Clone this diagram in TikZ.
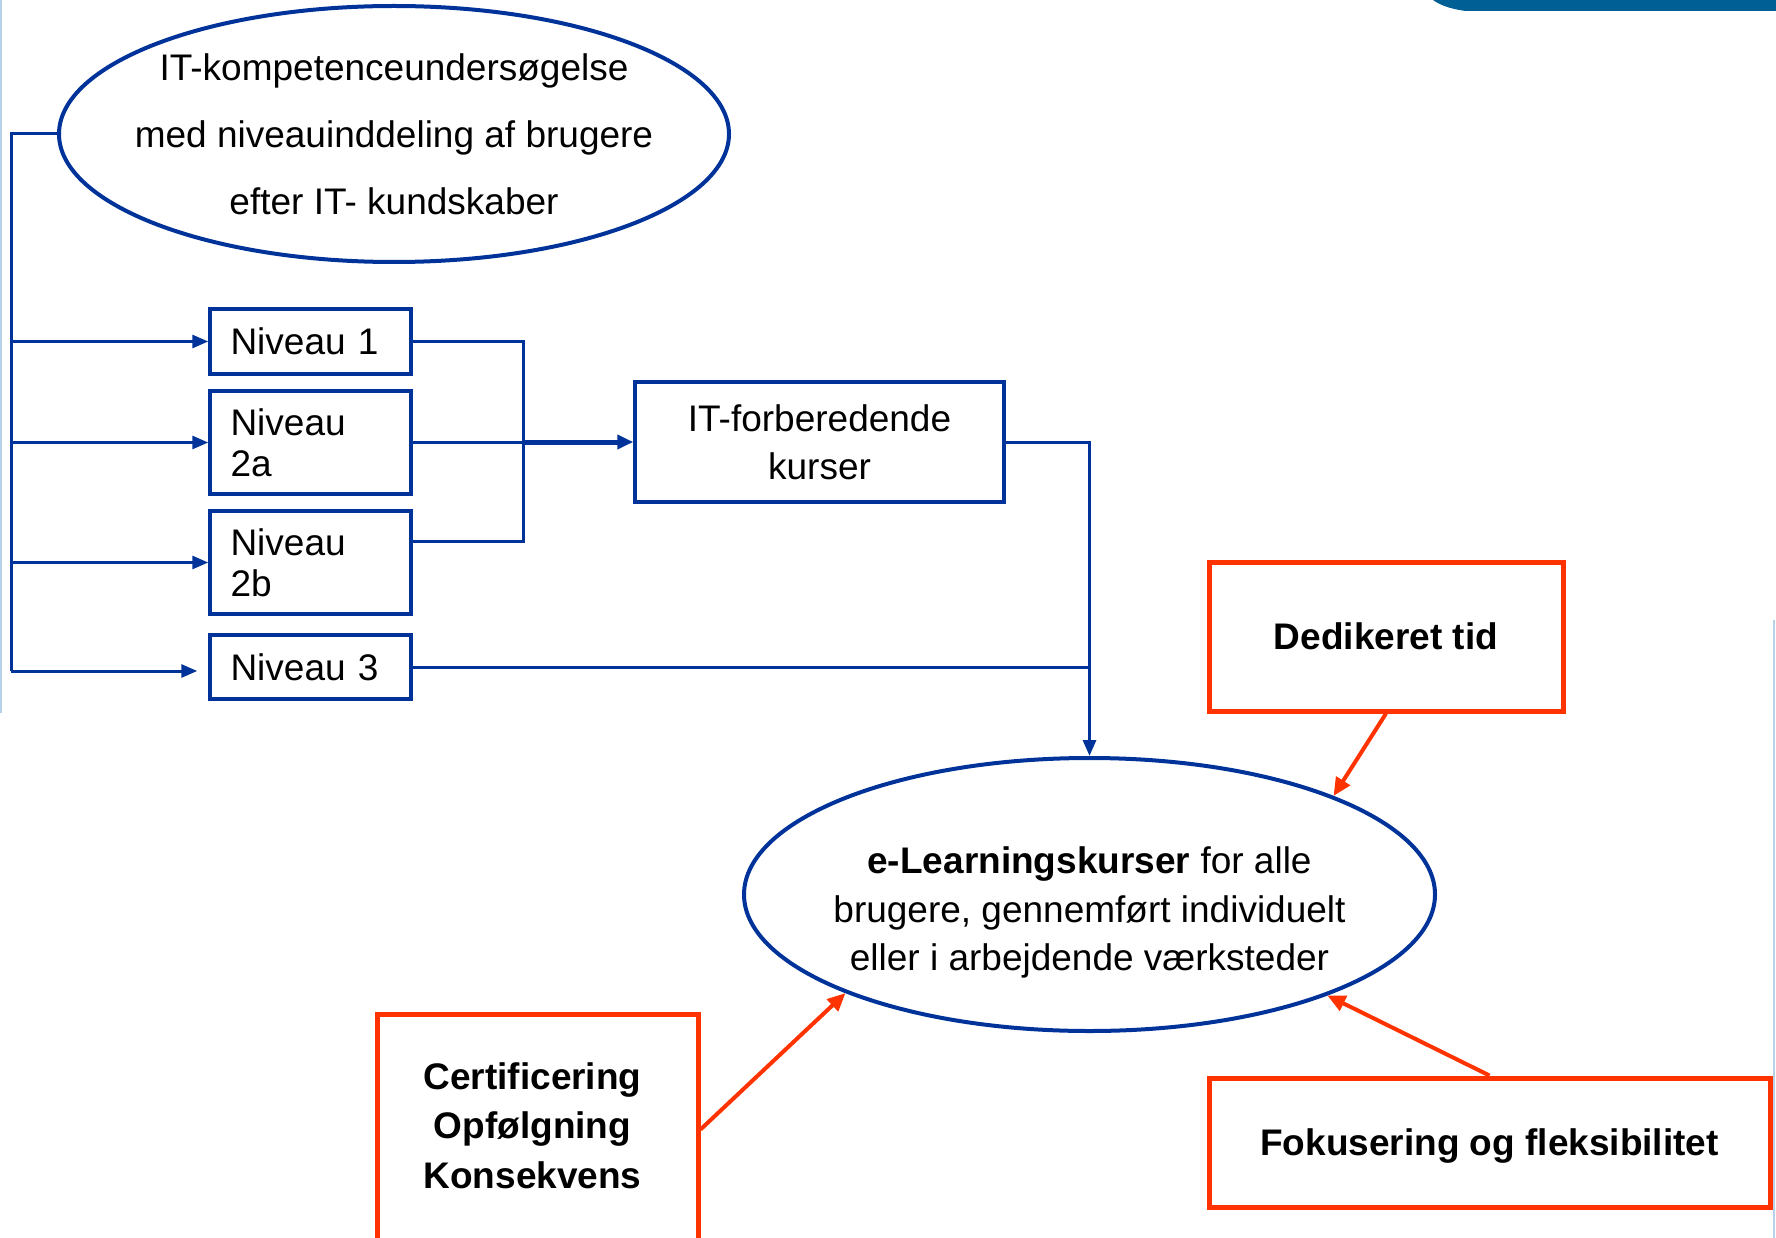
\documentclass[tikz,border=0pt]{standalone}
\usepackage{fontspec}
\setmainfont{Liberation Sans}
\usetikzlibrary{arrows.meta,shapes.geometric}
\definecolor{dblue}{HTML}{003399}
\definecolor{ored}{HTML}{FF3300}
\definecolor{barblue}{HTML}{005F94}
\definecolor{edgeblue}{HTML}{B8D0E8}
\begin{document}
\begin{tikzpicture}[x=1pt,y=-1pt,
  bl/.style={draw=dblue,line width=3pt},
  blarrow/.style={bl,-{Triangle[length=16pt,width=13pt]}},
  lvl/.style={draw=dblue,line width=3.5pt,minimum width=201pt,text width=160pt,
    align=left,inner sep=0pt,font=\fontsize{37}{41}\selectfont},
  bluebox/.style={draw=dblue,line width=3.5pt,inner sep=0pt,align=center,
    font=\fontsize{37}{48}\selectfont},
  ell/.style={ellipse,draw=dblue,line width=4pt,inner sep=0pt},
  redbox/.style={draw=ored,line width=5pt,inner sep=0pt},
  redtext/.style={inner sep=0pt,align=center,font=\fontsize{37}{49.5}\selectfont\bfseries},
  redarrow/.style={draw=ored,line width=4pt,-{Triangle[length=18pt,width=16pt]}}
]
\useasboundingbox (0,0) rectangle (1776,1238);
\clip (0,0) rectangle (1776,1238);
\fill[white] (0,0) rectangle (1776,1238);

% decorative edges
\fill[barblue] (1433,0) -- (1776,0) -- (1776,11) -- (1466,11) .. controls (1450,9) and (1440,5) .. (1433,0);
\draw[edgeblue,line width=2pt] (1,0) -- (1,713);
\draw[edgeblue,line width=1.5pt] (1774,620) -- (1774,1238);

% top ellipse
\node[ell,minimum width=670pt,minimum height=256pt] (top) at (394,134) {};
\node[align=center,inner sep=0pt,font=\fontsize{37}{67}\selectfont] (topT) at (top.center)
  {IT-kompetenceundersøgelse\\med niveauinddeling af brugere\\efter IT- kundskaber};

% levels
\node[lvl,minimum height=65pt]  (n1)  at (310.5,341.5) {Niveau 1};
\node[lvl,minimum height=103pt] (n2a) at (310.5,442.5) {Niveau\\2a};
\node[lvl,minimum height=103pt] (n2b) at (310.5,562.5) {Niveau\\2b};
\node[lvl,minimum height=64pt]  (n3)  at (310.5,667)   {Niveau 3};

% IT box
\node[bluebox,minimum width=369pt,minimum height=120pt] (itk) at (819.5,442)
  {IT-forberedende\\kurser};

% bottom ellipse
\node[ell,minimum width=691pt,minimum height=273pt] (el) at (1089.5,894.5) {};
\node[align=center,inner sep=0pt,font=\fontsize{37}{48.5}\selectfont] (elT)
  at ([yshift=-18pt]el.center)
  {\textbf{e-Learningskurser} for alle\\brugere, gennemført individuelt\\eller i arbejdende værksteder};

% red boxes
\node[redbox,minimum width=354pt,minimum height=149pt] (ded) at (1386,636.5) {};
\node[redtext] (dedT) at (ded.center) {Dedikeret tid};
\node[redbox,minimum width=321pt,minimum height=231pt] (cert) at (537.5,1129.5) {};
\node[redtext] (certT) at ([xshift=-5pt,yshift=4pt]cert.center)
  {Certificering\\Opfølgning\\Konsekvens};
\node[redbox,minimum width=561pt,minimum height=129pt] (fok) at (1489.5,1142.5) {};
\node[redtext] (fokT) at ([yshift=-4pt]fok.center) {Fokusering og fleksibilitet};

% bus on the left
\coordinate (bx) at (11,0);
\coordinate (mx) at (523,0);
\coordinate (n3in) at ([xshift=-11pt,yshift=-4pt]n3.west);
\draw[bl] (top.west) -- (bx |- top.west) -- (bx |- n3in);
\draw[blarrow] (bx |- n1.west) -- (n1.west);
\draw[blarrow] (bx |- n2a.west) -- (n2a.west);
\draw[blarrow] (bx |- n2b.west) -- (n2b.west);
\draw[blarrow] (bx |- n3in) -- (n3in);

% merge to IT box
\coordinate (n2bout) at ([yshift=21pt]n2b.east);
\draw[bl] (n1.east) -- (mx |- n1.east) -- (mx |- n2bout) -- (n2bout);
\draw[bl] (n2a.east) -- (mx |- n2a.east);
\draw[draw=dblue,line width=5pt,-{Triangle[length=16pt,width=14pt]}] (mx |- itk.west) -- (itk.west);

% to e-learning
\draw[blarrow] (itk.east) -| (el.north);
\draw[bl] (n3.east) -- (el.north |- n3.east);

% red arrows
\draw[redarrow] (ded.south) -- (el.22.5);
\draw[redarrow] (cert.east) -- (el.202.5);
\draw[redarrow] (fok.north) -- (el.337.5);
\end{tikzpicture}
\end{document}
